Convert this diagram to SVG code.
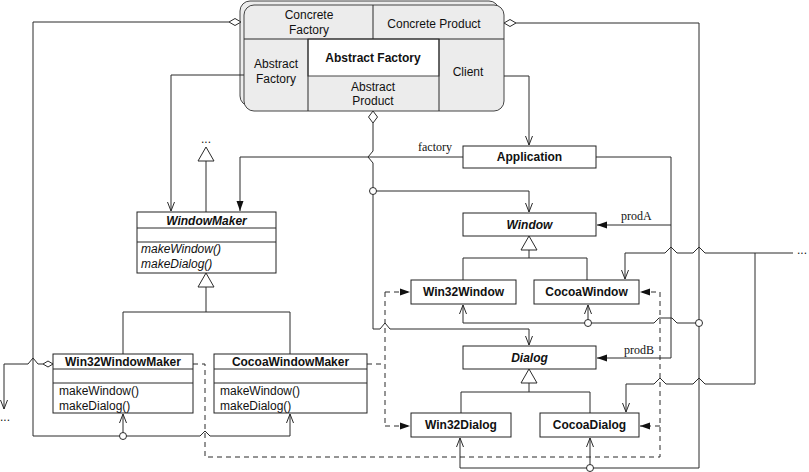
<svg xmlns="http://www.w3.org/2000/svg" width="809" height="472" viewBox="0 0 809 472">
<style>
.ln{fill:none;stroke:#2b2b2b;stroke-width:1}
.dash{stroke-dasharray:5,4}
.box{fill:#fff;stroke:#222;stroke-width:1}
.pat{fill:#ececec;stroke:#444;stroke-width:1}
.hol{fill:#fff;stroke:#2b2b2b;stroke-width:1}
.t{font-family:"Liberation Sans",Arial,sans-serif;font-size:12px;fill:#111}
.c{text-anchor:middle}
.b{font-weight:bold}
.i{font-style:italic}
.s{font-family:"Liberation Serif","Times New Roman",serif;font-size:12px;fill:#111}
</style>
<defs>
<marker id="open" viewBox="0 0 10 10" refX="10" refY="5" markerWidth="10" markerHeight="10" markerUnits="userSpaceOnUse" orient="auto"><path d="M1,1.5 L10,5 L1,8.5" fill="none" stroke="#2b2b2b"/></marker>
<marker id="fill" viewBox="0 0 10 10" refX="10" refY="5" markerWidth="10" markerHeight="10" markerUnits="userSpaceOnUse" orient="auto"><path d="M0,1.5 L10,5 L0,8.5 Z" fill="#111" stroke="none"/></marker>
</defs>

<g id="pattern">
<rect class="pat" x="240" y="1" width="259" height="105" rx="10"/>
<rect class="pat" x="244" y="5" width="260" height="106" rx="10"/>
<rect x="308" y="39" width="131" height="37" fill="#fff" stroke="#444"/>
<path class="ln" d="M244,39 H504 M373,5 V39 M308,39 V111 M439,39 V111" stroke="#444"/>
<text class="t c" x="309" y="19">Concrete</text>
<text class="t c" x="309" y="34">Factory</text>
<text class="t c" x="434" y="28">Concrete Product</text>
<text class="t c" x="276" y="68">Abstract</text>
<text class="t c" x="276" y="83">Factory</text>
<text class="t c b" x="373" y="62">Abstract Factory</text>
<text class="t c" x="373" y="91">Abstract</text>
<text class="t c" x="373" y="105">Product</text>
<text class="t c" x="468" y="76">Client</text>
</g>

<g id="connectors">
<!-- Concrete Factory role -->
<polygon class="hol" points="229,22 235,18.5 241,22 235,25.5"/>
<path class="ln" d="M229,22 H33 V436 H200 L205,431 L210,436 H290 V414" marker-end="url(#open)"/>
<path class="ln" d="M123,436 V414" marker-end="url(#open)"/>
<circle class="hol" cx="123" cy="436" r="3.5"/>
<!-- Concrete Product role -->
<polygon class="hol" points="504,23 510,19.5 516,23 510,26.5"/>
<path class="ln" d="M516,23 H699 V468 H460 V438" marker-end="url(#open)"/>
<path class="ln" d="M699,323 H677 L672,318 H659 L654,323 H463 V305" marker-end="url(#open)"/>
<path class="ln" d="M588,323 V305" marker-end="url(#open)"/>
<path class="ln" d="M590,468 V438" marker-end="url(#open)"/>
<circle class="hol" cx="699" cy="323" r="3.5"/>
<circle class="hol" cx="588" cy="323" r="3.5"/>
<circle class="hol" cx="590" cy="468" r="3.5"/>
<!-- Abstract Product role -->
<polygon class="hol" points="373,111 377.5,117 373,123 368.5,117"/>
<path class="ln" d="M373,123 V151 L368,157 L373,163 V329 H380 L385,323 L390,329 H529 V345" marker-end="url(#open)"/>
<path class="ln" d="M373,191 H529 V212" marker-end="url(#open)"/>
<circle class="hol" cx="373" cy="191" r="3.5"/>
<!-- Client role -->
<path class="ln" d="M504,76 H529 V145" marker-end="url(#open)"/>
<!-- Abstract Factory role -->
<path class="ln" d="M244,75 H171 V211" marker-end="url(#open)"/>
<!-- factory -->
<path class="ln" d="M463,157 H240 V211" marker-end="url(#fill)"/>
<text class="s" x="418" y="151">factory</text>
<!-- prodA / prodB -->
<path class="ln" d="M596,157 H671 V358 H597" marker-end="url(#fill)"/>
<path class="ln" d="M671,225 H597" marker-end="url(#fill)"/>
<text class="s" x="621" y="220">prodA</text>
<text class="s" x="624" y="354">prodB</text>
<!-- right ... -->
<path class="ln" d="M793,253 H705 L699,247 L693,253 H677 L671,247 L665,253 H625 V279" marker-end="url(#open)"/>
<path class="ln" d="M755,253 V384 H705 L699,378 L693,384 H666 L660,378 L654,384 H626 V412" marker-end="url(#open)"/>
<text class="t" x="797" y="254">...</text>
<!-- left ... -->
<polygon class="hol" points="53,364 48,361 43,364 48,367"/>
<path class="ln" d="M43,364 H38 L33,358 L28,364 H4 V409" marker-end="url(#open)"/>
<text class="t" x="0" y="421">...</text>
<!-- WindowMaker inheritance up -->
<path class="ln" d="M206,161 V212"/>
<polygon class="hol" points="206,147 214,161 198,161"/>
<text class="t c" x="206" y="143">...</text>
<!-- WindowMaker subclasses -->
<path class="ln" d="M206,287 V312 M123,354 V312 H290 V354"/>
<polygon class="hol" points="206,273 214,287 198,287"/>
<!-- Window subclasses -->
<path class="ln" d="M529,250 V258 M463,280 V258 H587 V280"/>
<polygon class="hol" points="529,236 537,250 521,250"/>
<!-- Dialog subclasses -->
<path class="ln" d="M529,383 V392 M461,413 V392 H590 V413"/>
<polygon class="hol" points="529,369 537,383 521,383"/>
<!-- creation (dashed) -->
<path class="ln dash" d="M193,364 H205 V457 H660 V292 H640" marker-end="url(#fill)"/>
<path class="ln dash" d="M660,426 H640" marker-end="url(#fill)"/>
<path class="ln dash" d="M367,364 H385 M385,292 V426"/>
<path class="ln dash" d="M385,292 H410" marker-end="url(#fill)"/>
<path class="ln dash" d="M385,426 H410" marker-end="url(#fill)"/>
</g>

<g id="Application">
<rect class="box" x="463" y="146" width="133" height="22"/>
<text class="t c b" x="529.5" y="161">Application</text>
</g>
<g id="Window">
<rect class="box" x="463" y="213" width="133" height="23"/>
<text class="t c b i" x="529.5" y="229">Window</text>
</g>
<g id="Win32Window">
<rect class="box" x="411" y="280" width="105" height="24"/>
<text class="t c b" x="463.5" y="296">Win32Window</text>
</g>
<g id="CocoaWindow">
<rect class="box" x="534" y="280" width="105" height="24"/>
<text class="t c b" x="586.5" y="296">CocoaWindow</text>
</g>
<g id="Dialog">
<rect class="box" x="463" y="346" width="133" height="23"/>
<text class="t c b i" x="529.5" y="362">Dialog</text>
</g>
<g id="Win32Dialog">
<rect class="box" x="411" y="413" width="100" height="24"/>
<text class="t c b" x="461" y="429">Win32Dialog</text>
</g>
<g id="CocoaDialog">
<rect class="box" x="540" y="413" width="99" height="24"/>
<text class="t c b" x="589.5" y="429">CocoaDialog</text>
</g>
<g id="WindowMaker">
<rect class="box" x="137" y="212" width="139" height="61"/>
<path class="ln" d="M137,228 H276 M137,242 H276" stroke="#222"/>
<text class="t c b i" x="206.5" y="225">WindowMaker</text>
<text class="t i" x="141" y="253">makeWindow()</text>
<text class="t i" x="141" y="268">makeDialog()</text>
</g>
<g id="Win32WindowMaker">
<rect class="box" x="53" y="354" width="140" height="59"/>
<path class="ln" d="M53,369 H193 M53,383 H193" stroke="#222"/>
<text class="t c b" x="123" y="366">Win32WindowMaker</text>
<text class="t" x="59" y="395">makeWindow()</text>
<text class="t" x="59" y="410">makeDialog()</text>
</g>
<g id="CocoaWindowMaker">
<rect class="box" x="214" y="354" width="153" height="59"/>
<path class="ln" d="M214,369 H367 M214,383 H367" stroke="#222"/>
<text class="t c b" x="290.5" y="366">CocoaWindowMaker</text>
<text class="t" x="220" y="395">makeWindow()</text>
<text class="t" x="220" y="410">makeDialog()</text>
</g>
</svg>
